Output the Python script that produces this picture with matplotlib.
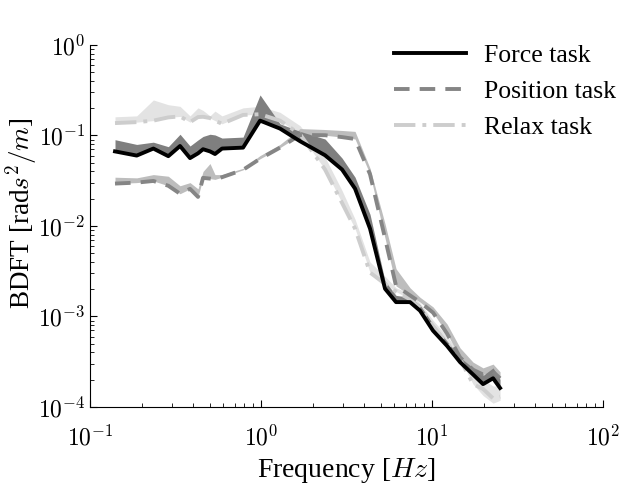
import numpy as np
import matplotlib
matplotlib.use("Agg")
import matplotlib.pyplot as plt
from matplotlib.ticker import FuncFormatter, LogLocator

plt.rcParams["font.family"] = ["Liberation Serif", "DejaVu Serif"]
plt.rcParams["mathtext.fontset"] = "cm"

# excitation frequencies [Hz]
freq = [0.140, 0.1875, 0.2346, 0.287, 0.336, 0.3844, 0.428, 0.458, 0.503, 0.538,
        0.5914, 0.785, 0.987, 1.291, 1.691, 2.367, 2.977, 3.546, 4.339, 5.310,
        6.157, 7.434, 8.508, 10.13, 12.24, 14.58, 17.37, 19.87, 22.74, 24.98]

# force task: median line and upper envelope
force = [0.0666, 0.0599, 0.0716, 0.0590, 0.0764, 0.0562, 0.0634, 0.0704, 0.0666, 0.0623,
         0.0716, 0.0733, 0.1457, 0.1190, 0.0863, 0.0604, 0.0420, 0.02583, 0.00933, 0.002025,
         0.001441, 0.001441, 0.001158, 0.000697, 0.000473, 0.000313, 0.0002285, 0.0001789, 0.0002075, 0.0001622]
force_hi = [0.0897, 0.0795, 0.0842, 0.0751, 0.1030, 0.0764, 0.0891, 0.0974, 0.1030, 0.1012,
            0.0935, 0.0958, 0.2800, 0.1344, 0.1108, 0.0913, 0.0562, 0.03455, 0.01342, 0.002458,
            0.001709, 0.001628, 0.001340, 0.000825, 0.000534, 0.000353, 0.0002705, 0.0002231, 0.0002705, 0.0002020]

# position task
position = [0.02938, 0.03011, 0.03140, 0.02779, 0.02270, 0.02569, 0.02094, 0.03398, 0.03334, 0.03269,
            0.03455, 0.04169, 0.05521, 0.0733, 0.1012, 0.1005, 0.0958, 0.0913, 0.03721, 0.00732,
            0.002178, 0.001709, 0.001441, 0.001103, 0.000647, 0.000353, 0.0002578, 0.0002285, 0.0002449, 0.0002075]
position_hi = [0.03455, 0.03398, 0.03691, 0.03541, 0.02779, 0.03011, 0.02569, 0.03998, 0.04891, 0.03691,
               0.03691, 0.04330, 0.0599, 0.0795, 0.1190, 0.1162, 0.1134, 0.1108, 0.04330, 0.01054,
               0.003370, 0.002074, 0.001628, 0.001277, 0.000825, 0.000450, 0.000313, 0.0002705, 0.0002977, 0.0002449]

# relax task
relax = [0.1368, 0.1402, 0.1457, 0.1582, 0.1622, 0.1402, 0.1594, 0.1606, 0.1555, 0.1457,
         0.1344, 0.1684, 0.1714, 0.1457, 0.1030, 0.0420, 0.01796, 0.00933, 0.003057, 0.002286,
         0.001883, 0.001550, 0.001246, 0.000785, 0.000508, 0.0003365, 0.0001789, 0.0001584, 0.0001246, 0.0001303]
relax_hi = [0.1606, 0.1644, 0.2465, 0.2184, 0.2096, 0.1644, 0.2016, 0.1888, 0.1644, 0.1856,
            0.1644, 0.2016, 0.2096, 0.1799, 0.1281, 0.05752, 0.02460, 0.01189, 0.003992, 0.002776,
            0.002074, 0.001793, 0.001407, 0.000909, 0.000602, 0.000398, 0.0002340, 0.0002020, 0.0001705, 0.0001705]
relax_lo = [0.1368, 0.1402, 0.1457, 0.1582, 0.1622, 0.1402, 0.1594, 0.1606, 0.1555, 0.1457,
            0.1344, 0.1684, 0.1714, 0.1457, 0.1030, 0.0420, 0.01796, 0.00933, 0.003057, 0.002286,
            0.001883, 0.001550, 0.001246, 0.000785, 0.000508, 0.0003365, 0.0001789, 0.0001339, 0.0001102, 0.0001185]

fig = plt.figure(figsize=(6.23, 4.88), dpi=100)
ax = fig.add_axes([0.1445, 0.166, 0.8235, 0.742])

ax.fill_between(freq, relax_lo, relax_hi, color="#e3e3e3", lw=0, zorder=1)
ax.fill_between(freq, position, position_hi, color="#bdbdbd", lw=0, zorder=2)
ax.fill_between(freq, force, force_hi, color="#7f7f7f", lw=0, zorder=3)

ax.plot(freq, relax, color="#cdcdcd", lw=2.8, ls=(0, (5.5, 1.8, 1, 1.8)), label="Relax task", zorder=4)
ax.plot(freq, position, color="#858585", lw=2.8, ls=(0, (4, 2.6)), label="Position task", zorder=5)
ax.plot(freq, force, color="black", lw=2.8, label="Force task", zorder=6)

ax.set_xscale("log")
ax.set_yscale("log")
ax.set_xlim(0.1, 100)
ax.set_ylim(1e-4, 1)

fmt = FuncFormatter(lambda v, p: r"$10^{%d}$" % int(round(np.log10(v))))
ax.xaxis.set_major_formatter(fmt)
ax.yaxis.set_major_formatter(fmt)
ax.xaxis.set_minor_locator(LogLocator(base=10, subs=np.arange(2, 10)))
ax.yaxis.set_minor_locator(LogLocator(base=10, subs=np.arange(2, 10)))
ax.tick_params(which="both", direction="in", labelsize=17)
ax.tick_params(which="major", length=5)
ax.tick_params(which="minor", length=3)
ax.tick_params(axis="x", which="major", pad=13)
for s in ("top", "right"):
    ax.spines[s].set_visible(False)

ax.set_xlabel(r"Frequency [$Hz$]", fontsize=20)
ax.set_ylabel(r"BDFT [rad$s^2/m$]", fontsize=19.5)
ax.xaxis.set_label_coords(0.5, -0.135)
ax.yaxis.set_label_coords(-0.097, 0.535)

h, l = ax.get_legend_handles_labels()
ax.legend(h[::-1], l[::-1], loc="upper right", bbox_to_anchor=(1.045, 1.031), borderaxespad=0,
          frameon=False, fontsize=18.5, handlelength=2.8, handletextpad=0.7, labelspacing=0.5)

fig.savefig("out.png", dpi=100)
